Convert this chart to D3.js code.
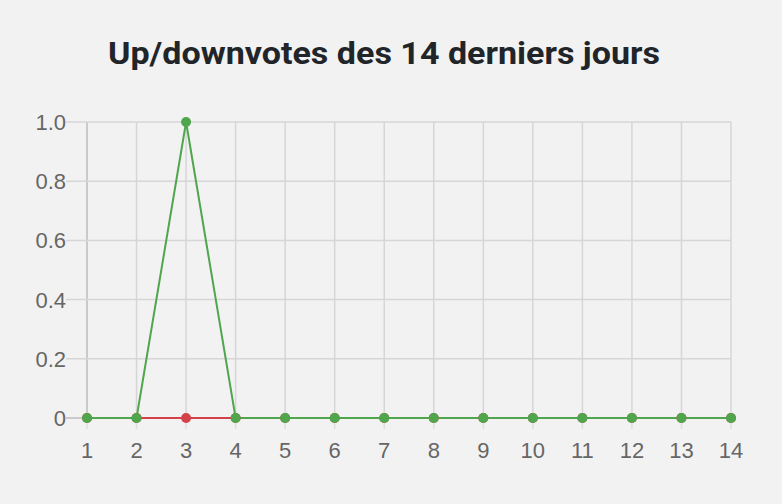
<!DOCTYPE html>
<html><head><meta charset="utf-8">
<script src="https://cdn.jsdelivr.net/npm/d3@7"></script>
<style>body{margin:0;background:#f2f2f2;}svg{display:block;}</style>
</head><body>
<script>
const days = [1,2,3,4,5,6,7,8,9,10,11,12,13,14];
const upvotes = [0,0,1,0,0,0,0,0,0,0,0,0,0,0];
const downvotes = [0,0,0,0,0,0,0,0,0,0,0,0,0,0];
const yTicks = [0,0.2,0.4,0.6,0.8,1.0];
const title = "Up/downvotes des 14 derniers jours";

const W=782,H=504;
const svg=d3.select("body").append("svg").attr("width",W).attr("height",H);
svg.append("rect").attr("width",W).attr("height",H).attr("fill","#f2f2f2");
const x=d3.scaleLinear().domain([1,14]).range([87,731]);
const y=d3.scaleLinear().domain([0,1]).range([418,122]);

svg.append("text").attr("x",108).attr("y",64).attr("text-anchor","start")
 .attr("font-family","Roboto, 'Liberation Sans', sans-serif").attr("font-weight",700)
 .attr("font-size",30.5).attr("fill","#212529")
 .attr("textLength",552).attr("lengthAdjust","spacingAndGlyphs").text(title);

const g=svg.append("g");
g.selectAll(".vg").data(days).join("line")
 .attr("x1",d=>x(d)).attr("x2",d=>x(d)).attr("y1",y(1)).attr("y2",y(0))
 .attr("stroke",(d,i)=>i===0?"#bdbdbd":"#d6d6d6").attr("stroke-width",1.5);
g.selectAll(".vt").data(days).join("line")
 .attr("x1",d=>x(d)).attr("x2",d=>x(d)).attr("y1",y(0)).attr("y2",y(0)+11)
 .attr("stroke","#dedede").attr("stroke-width",1.5);
g.selectAll(".hg").data(yTicks).join("line")
 .attr("x1",x(1)-21).attr("x2",x(14)).attr("y1",d=>y(d)).attr("y2",d=>y(d))
 .attr("stroke",d=>d===0?"#bdbdbd":"#d6d6d6").attr("stroke-width",1.5);

const fmt=d=>d===0?"0":d3.format(".1f")(d);
g.selectAll(".yl").data(yTicks).join("text")
 .attr("x",x(1)-21).attr("y",d=>y(d)+8).attr("text-anchor","end")
 .attr("font-family","'Liberation Sans', Arial, sans-serif").attr("font-size",22).attr("fill","#666")
 .text(fmt);
g.selectAll(".xl").data(days).join("text")
 .attr("x",d=>x(d)).attr("y",y(0)+40).attr("text-anchor","middle")
 .attr("font-family","'Liberation Sans', Arial, sans-serif").attr("font-size",22).attr("fill","#666")
 .text(d=>d);

const line=d3.line().x((d,i)=>x(days[i])).y(d=>y(d));
const series=[{v:downvotes,c:"#d4414a"},{v:upvotes,c:"#4fa64c"}];
series.forEach(s=>{
 svg.append("path").datum(s.v).attr("d",line).attr("fill","none").attr("stroke",s.c).attr("stroke-width",2);
});
series.forEach(s=>{
 svg.append("g").selectAll("circle").data(s.v).join("circle")
  .attr("cx",(d,i)=>x(days[i])).attr("cy",d=>y(d)).attr("r",5).attr("fill",s.c);
});
</script>
</body></html>
